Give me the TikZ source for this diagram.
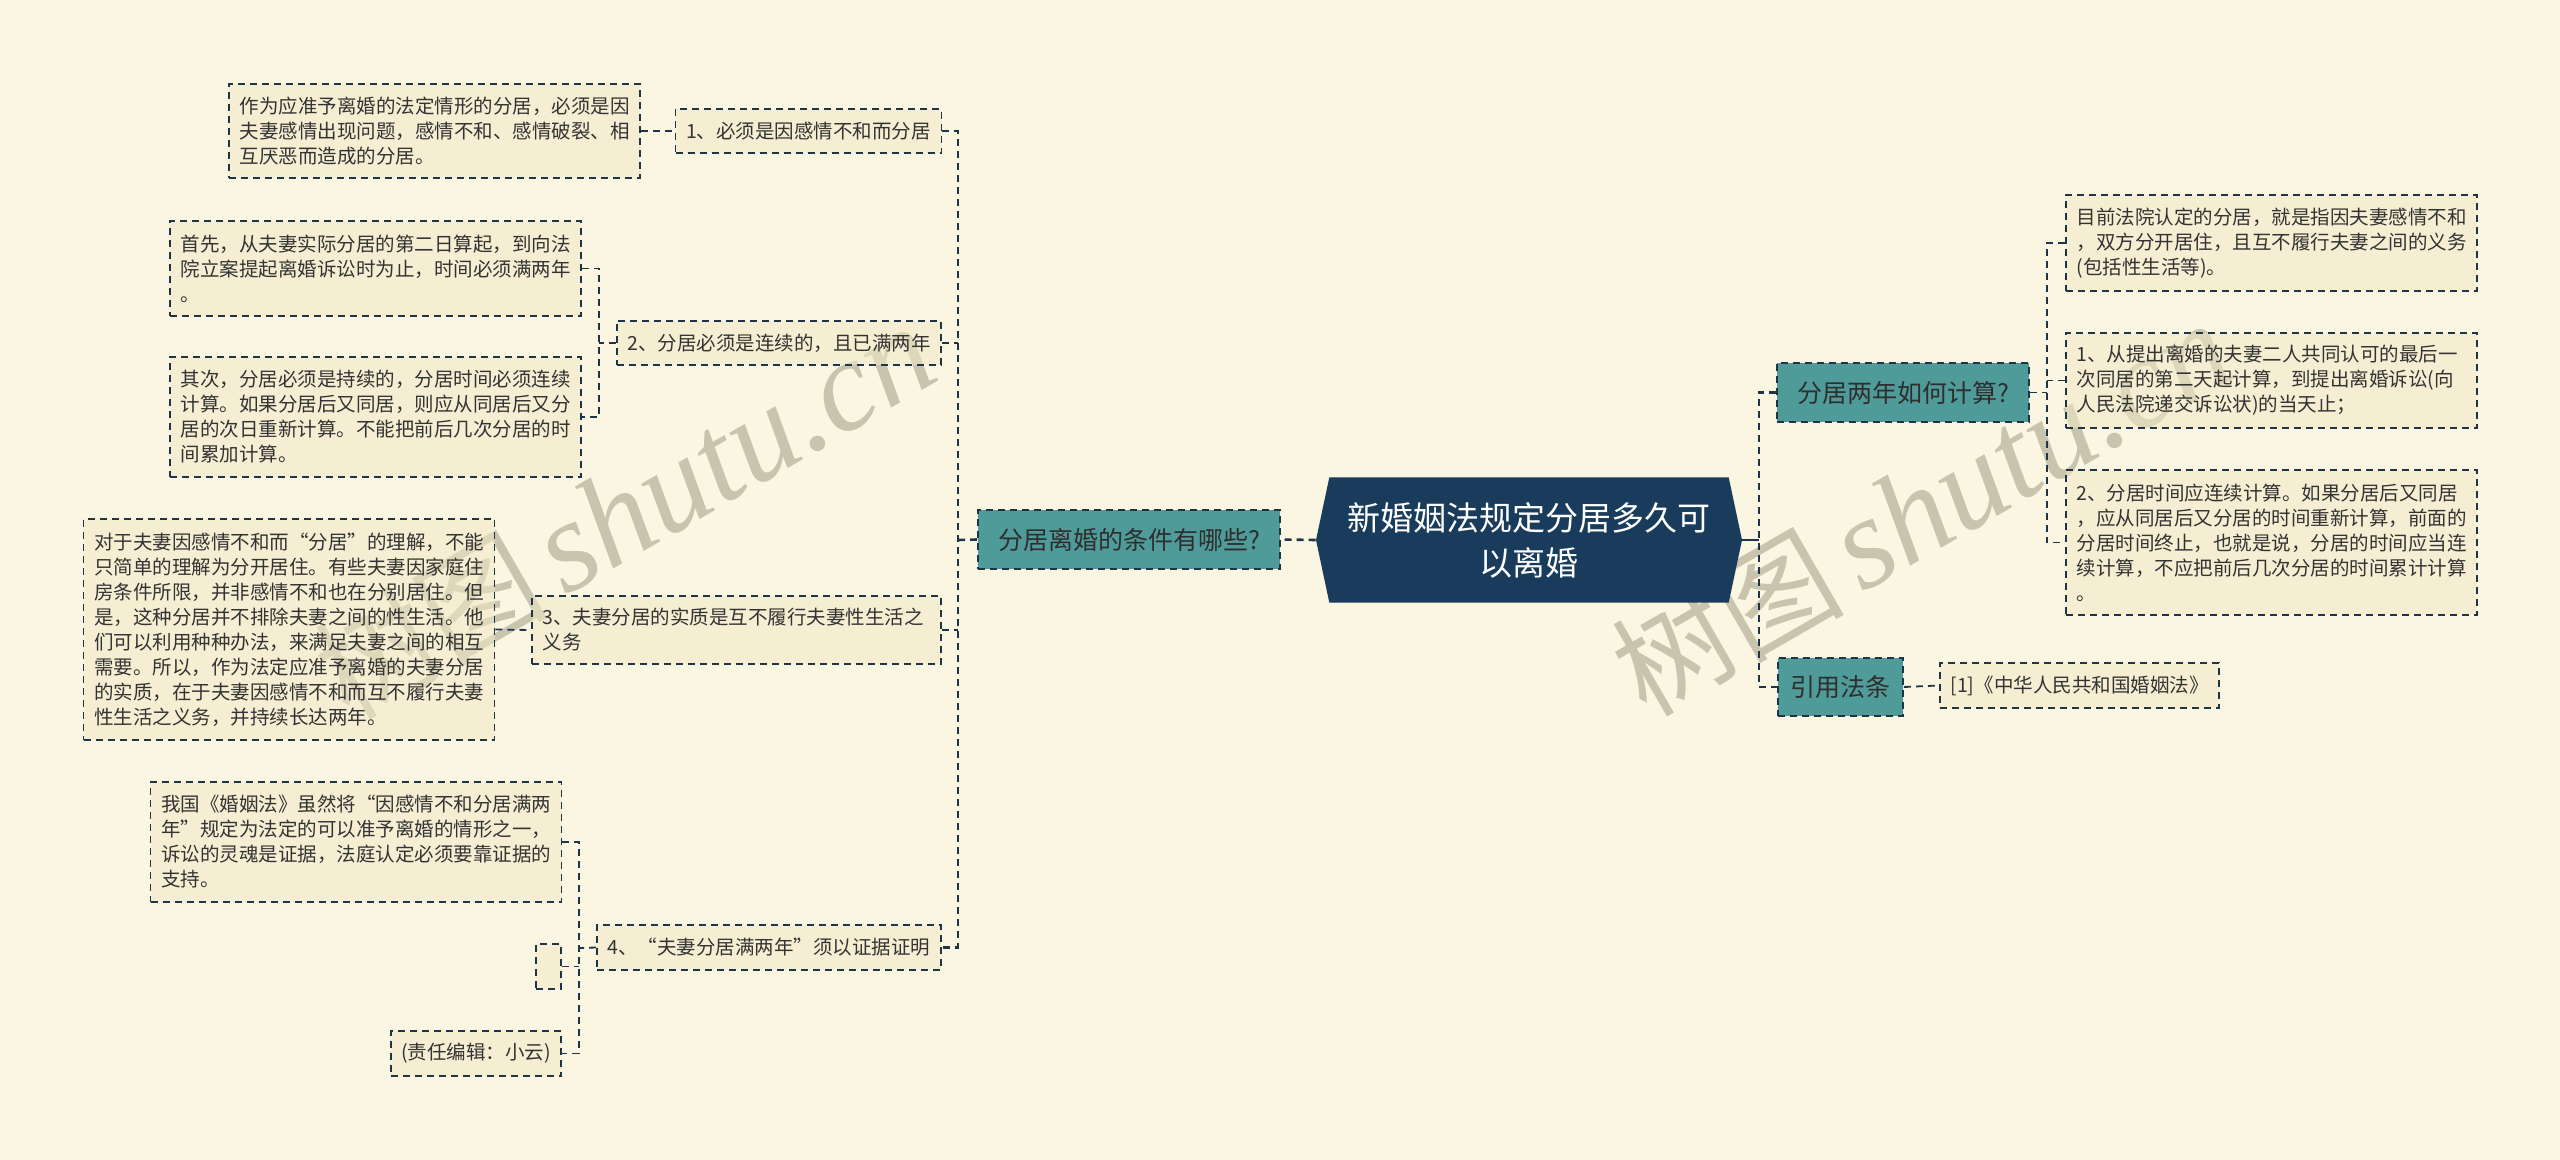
\documentclass[tikz,border=0pt]{standalone}
\usepackage{fontspec}
\setmainfont{Noto Sans CJK SC}
\newfontfamily\wmlatin{Liberation Serif}
\usepackage{tikz}
\usetikzlibrary{shapes.symbols}
\definecolor{bgc}{HTML}{FAF6E2}
\definecolor{leafc}{HTML}{F1E9C5}
\definecolor{linec}{HTML}{1E3548}
\definecolor{tealc}{HTML}{4F9B9A}
\definecolor{rootc}{HTML}{193C5C}
\definecolor{txtc}{HTML}{333333}
\definecolor{wmc}{HTML}{C9C4AE}

\begin{document}
\begin{tikzpicture}[x=0.5pt, y=-0.5pt, inner sep=0pt,
  leaf/.style={draw=linec, dash pattern=on 3.5pt off 2.5pt, line width=0.9pt, fill=leafc, fill opacity=0.55, text opacity=1, text=txtc, align=left, inner xsep=5.25pt, font=\fontsize{9.75}{12.5}\selectfont},
  topic/.style={draw=linec, dash pattern=on 3.5pt off 2.5pt, line width=0.9pt, fill=tealc, text=txtc!90!black, font=\fontsize{12.5}{15}\selectfont},
  rootbox/.style={signal, signal to=west and east, signal pointer angle=156, fill=rootc, text=white, align=center, font=\fontsize{16.5}{22.5}\selectfont},
  link/.style={draw=linec, line width=0.9pt, dash pattern=on 3.5pt off 2.5pt},
  trunk/.style={link, line width=1.3pt},
  wmlat/.style={rotate=30, text=wmc, anchor=base west, font=\fontsize{65}{65}\selectfont\wmlatin\itshape},
  wmcjk/.style={rotate=30, text=wmc, anchor=base east, inner xsep=8pt, font=\fontsize{58}{58}\selectfont}]

\fill[bgc] (0,0) rectangle (2560,1160);
\useasboundingbox (0,0) rectangle (2560,1160);

% watermarks
\node (wm1s) at (565,597) [wmlat] {shutu.cn};
\node (wm1c) at (wm1s.base west) [wmcjk] {树图};
\node (wm2s) at (1862,594) [wmlat] {shutu.cn};
\node (wm2c) at (wm2s.base west) [wmcjk] {树图};

% root and main topics
\node (root) at (1529,540) [rootbox, minimum width=213pt, minimum height=62.5pt] {新婚姻法规定分居多久可\\以离婚};
\node (C1) at (1129,539.5) [topic, minimum width=151pt, minimum height=29.5pt] {分居离婚的条件有哪些?};
\node (C2) at (1903,392.5) [topic, minimum width=126pt, minimum height=29.5pt] {分居两年如何计算?};
\node (C3) at (1840.5,687) [topic, minimum width=62.5pt, minimum height=29pt] {引用法条};

% left branch
\node (L1) at (808.5,131) [leaf, minimum width=132.5pt, minimum height=22pt] {1、必须是因感情不和而分居};
\node (L2) at (779,343) [leaf, minimum width=162pt, minimum height=22pt] {2、分居必须是连续的，且已满两年};
\node (L3) at (736.5,630) [leaf, minimum width=204.5pt, minimum height=34pt, text width=194pt] {3、夫妻分居的实质是互不履行夫妻性生活之\\义务};
\node (L4) at (769,947.5) [leaf, minimum width=172pt, minimum height=22.5pt] {4、“夫妻分居满两年”须以证据证明};

\node (A1) at (434.5,131) [leaf, minimum width=205.5pt, minimum height=47pt, text width=195pt] {作为应准予离婚的法定情形的分居，必须是因\\夫妻感情出现问题，感情不和、感情破裂、相\\互厌恶而造成的分居。};
\node (A2a) at (375.5,268.5) [leaf, minimum width=205.5pt, minimum height=47.5pt, text width=195pt] {首先，从夫妻实际分居的第二日算起，到向法\\院立案提起离婚诉讼时为止，时间必须满两年\\。};
\node (A2b) at (375.5,417) [leaf, minimum width=205.5pt, minimum height=60pt, text width=195pt] {其次，分居必须是持续的，分居时间必须连续\\计算。如果分居后又同居，则应从同居后又分\\居的次日重新计算。不能把前后几次分居的时\\间累加计算。};
\node (A3) at (289,629.5) [leaf, minimum width=205pt, minimum height=110.5pt, text width=195pt] {对于夫妻因感情不和而“分居”的理解，不能\\只简单的理解为分开居住。有些夫妻因家庭住\\房条件所限，并非感情不和也在分别居住。但\\是，这种分居并不排除夫妻之间的性生活。他\\们可以利用种种办法，来满足夫妻之间的相互\\需要。所以，作为法定应准予离婚的夫妻分居\\的实质，在于夫妻因感情不和而互不履行夫妻\\性生活之义务，并持续长达两年。};
\node (A4a) at (356,842) [leaf, minimum width=205pt, minimum height=60pt, text width=195pt] {我国《婚姻法》虽然将“因感情不和分居满两\\年”规定为法定的可以准予离婚的情形之一，\\诉讼的灵魂是证据，法庭认定必须要靠证据的\\支持。};
\node (A4b) at (548.5,966.5) [leaf, minimum width=12.5pt, minimum height=22.5pt] {};
\node (A4c) at (476,1053.5) [leaf, minimum width=85pt, minimum height=22.5pt] {(责任编辑：小云)};

% right branch
\node (R1) at (2271.5,243) [leaf, minimum width=205.5pt, minimum height=48pt, text width=195pt] {目前法院认定的分居，就是指因夫妻感情不和\\，双方分开居住，且互不履行夫妻之间的义务\\(包括性生活等)。};
\node (R2) at (2271.5,380.5) [leaf, minimum width=205.5pt, minimum height=47.5pt, text width=195pt] {1、从提出离婚的夫妻二人共同认可的最后一\\次同居的第二天起计算，到提出离婚诉讼(向\\人民法院递交诉讼状)的当天止；};
\node (R3) at (2271.5,542.5) [leaf, minimum width=205.5pt, minimum height=72.5pt, text width=195pt] {2、分居时间应连续计算。如果分居后又同居\\，应从同居后又分居的时间重新计算，前面的\\分居时间终止，也就是说，分居的时间应当连\\续计算，不应把前后几次分居的时间累计计算\\。};
\node (R4) at (2079.5,685.5) [leaf, minimum width=139.5pt, minimum height=22.5pt] {[1]《中华人民共和国婚姻法》};

% junctions
\coordinate (jl) at (958,540);
\coordinate (j2) at (599,343);
\coordinate (j4) at (579,948);
\coordinate (jr) at (1759,540);
\coordinate (jr2) at (2047,392.5);

% connectors
\draw[trunk] (root.west) -- (C1.east);
\draw[line width=1.3pt, draw=linec] (root.east) -- (jr);
\draw[trunk] (L1.east) -| (jl) |- (L4.east);
\draw[trunk] (C1.west) -- (jl);
\draw[link] (L2.east) -- (L2.east -| jl);
\draw[link] (L3.east) -- (L3.east -| jl);
\draw[link] (A1.east) -- (L1.west);
\draw[link] (A2a.east) -| (j2) |- (A2b.east);
\draw[link] (L2.west) -- (j2);
\draw[link] (A3.east) -- (L3.west);
\draw[link] (A4a.east) -| (j4) |- (A4c.east);
\draw[link] (A4b.east) -- (A4b.east -| j4);
\draw[link] (L4.west) -- (j4);
\draw[trunk] (C2.west) -| (jr) |- (C3.west);
\draw[link] (R1.west) -| (jr2) |- (R3.west);
\draw[link] (C2.east) -- (jr2);
\draw[link] (R2.west) -- (R2.west -| jr2);
\draw[link] (C3.east) -- (R4.west);
\end{tikzpicture}
\end{document}
